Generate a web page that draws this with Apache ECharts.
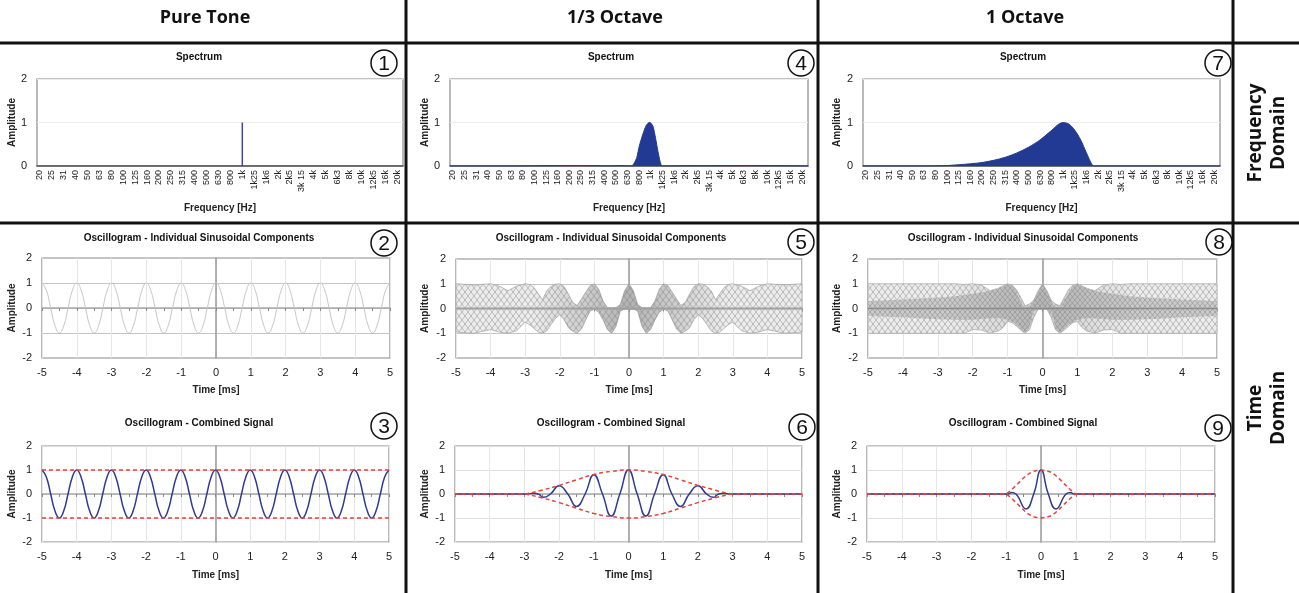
<!DOCTYPE html>
<html><head><meta charset="utf-8">
<script src="https://cdn.jsdelivr.net/npm/echarts@6/dist/echarts.min.js"></script>
<style>html,body{margin:0;padding:0;background:#fff}#c{width:1299px;height:593px}</style>
</head><body><div id="c"></div>
<script>
// ---------------- DATA ----------------
const columnHeaders = ['Pure Tone', '1/3 Octave', '1 Octave'];
const rowHeaders = ['Frequency\nDomain', 'Time\nDomain'];
const panelNumbers = ['1','2','3','4','5','6','7','8','9'];
const bandLabels = ['20','25','31','40','50','63','80','100','125','160','200','250','315','400','500','630','800','1k','1k25','1k6','2k','2k5','3k 15','4k','5k','6k3','8k','10k','12k5','16k','20k'];
const bandIndex = [0,1,2,3,4,5,6,7,8,9,10,11,12,13,14,15,16,17,18,19,20,21,22,23,24,25,26,27,28,29,30];

// spectra: [band index, amplitude]
const specPure = [[17,0],[17,1]];
const specThird = [[-0.25,0],[6,0],[6,0.012],[11,0.012],[11,0],[13.4,0],[13.4,0.012],[14.4,0.012],[14.4,0],[15.35,0],[15.6,0.08],[15.8,0.2],[16.0,0.45],[16.3,0.72],[16.6,0.93],[16.85,1.0],[17.0,0.99],[17.2,0.9],[17.4,0.65],[17.6,0.35],[17.8,0.1],[17.95,0],[18.3,0],[18.3,0.01],[26,0.01],[26,0],[30.5,0]];
const specOctave = [[-0.25,0],[5.5,0],[7,0.01],[8,0.03],[9,0.05],[10,0.08],[11,0.13],[12,0.2],[13,0.3],[14,0.43],[15,0.6],[16,0.82],[16.6,0.96],[17,1.0],[17.5,0.96],[18,0.82],[18.5,0.6],[19,0.3],[19.5,0.02],[19.7,0],[30.5,0]];

// pure tone (ms, amplitude)
const toneTime = [-5,-4.875,-4.75,-4.625,-4.5,-4.375,-4.25,-4.125,-4,-3.875,-3.75,-3.625,-3.5,-3.375,-3.25,-3.125,-3,-2.875,-2.75,-2.625,-2.5,-2.375,-2.25,-2.125,-2,-1.875,-1.75,-1.625,-1.5,-1.375,-1.25,-1.125,-1,-0.875,-0.75,-0.625,-0.5,-0.375,-0.25,-0.125,0,0.125,0.25,0.375,0.5,0.625,0.75,0.875,1,1.125,1.25,1.375,1.5,1.625,1.75,1.875,2,2.125,2.25,2.375,2.5,2.625,2.75,2.875,3,3.125,3.25,3.375,3.5,3.625,3.75,3.875,4,4.125,4.25,4.375,4.5,4.625,4.75,4.875,5];
const toneValue = [1,.71,0,-.71,-1,-.71,0,.71,1,.71,0,-.71,-1,-.71,0,.71,1,.71,0,-.71,-1,-.71,0,.71,1,.71,0,-.71,-1,-.71,0,.71,1,.71,0,-.71,-1,-.71,0,.71,1,.71,0,-.71,-1,-.71,0,.71,1,.71,0,-.71,-1,-.71,0,.71,1,.71,0,-.71,-1,-.71,0,.71,1,.71,0,-.71,-1,-.71,0,.71,1,.71,0,-.71,-1,-.71,0,.71,1];
const toneEnvTime = [-5,5];
const toneEnvUpper = [1,1];
const toneEnvLower = [-1,-1];

// 1/3 octave: spread of the individual components (upper / lower outline)
const thirdBandTime = [-5,-4.5,-4,-3.75,-3.5,-3.25,-3,-2.875,-2.75,-2.625,-2.5,-2.375,-2.25,-2.125,-2,-1.875,-1.75,-1.625,-1.5,-1.375,-1.25,-1.125,-1,-0.875,-0.75,-0.625,-0.5,-0.375,-0.25,-0.125,0,0.125,0.25,0.375,0.5,0.625,0.75,0.875,1,1.125,1.25,1.375,1.5,1.625,1.75,1.875,2,2.125,2.25,2.375,2.5,2.625,2.75,2.875,3,3.25,3.5,3.75,4,4.5,5];
const thirdBandUpper = [1,.95,1,.9,.72,.9,1,.97,.85,.6,.35,.72,.89,.98,1,.88,.58,.24,.12,.38,.66,.92,1,.78,.30,.03,.03,.03,.17,.72,1,.72,.17,.03,.03,.03,.30,.78,1,.92,.66,.38,.12,.24,.58,.88,1,.98,.89,.72,.35,.6,.85,.97,1,.9,.72,.9,1,.95,1];
const thirdBandLower = [-.95,-1,-.85,-.95,-1,-.9,-.55,-.65,-.8,-.95,-1,-.9,-.64,-.4,-.25,-.45,-.78,-.92,-1,-.83,-.46,-.1,-.03,-.15,-.46,-.85,-1,-.72,-.1,-.02,-.02,-.02,-.1,-.72,-1,-.85,-.46,-.15,-.03,-.1,-.46,-.83,-1,-.92,-.78,-.45,-.25,-.4,-.64,-.9,-1,-.95,-.8,-.65,-.55,-.9,-1,-.95,-.85,-1,-.95];

// 1/3 octave combined signal
const thirdSigTime = [-5,-3,-2.9,-2.75,-2.6,-2.45,-2.25,-2,-1.75,-1.5,-1.25,-1,-0.75,-0.5,-0.25,0,0.25,0.5,0.75,1,1.25,1.5,1.75,2,2.25,2.45,2.6,2.75,2.9,3,5];
const thirdSigValue = [0,0,0,0.03,0,-0.14,0,0.34,0,-0.52,0,0.8,0,-0.92,0,1,0,-0.92,0,0.8,0,-0.52,0,0.34,0,-0.14,0,0.03,0,0,0];
const thirdEnvTime = [-5,-3,-2.9,-2.5,-2,-1.5,-1,-0.5,0,0.5,1,1.5,2,2.5,2.9,3,5];
const thirdEnvUpper = [0,0,0.02,0.16,0.36,0.59,0.81,0.94,1,0.94,0.81,0.59,0.36,0.16,0.02,0,0];
const thirdEnvLower = [0,0,-0.02,-0.16,-0.36,-0.59,-0.81,-0.94,-1,-0.94,-0.81,-0.59,-0.36,-0.16,-0.02,0,0];

// 1 octave: spread of the individual components (light mesh) and their dense core
const octBandTime = [-5,-2.5,-2.25,-2,-1.75,-1.5,-1.25,-1.125,-1,-0.875,-0.75,-0.625,-0.5,-0.375,-0.25,-0.125,0,0.125,0.25,0.375,0.5,0.625,0.75,0.875,1,1.125,1.25,1.5,1.75,2,2.25,2.5,5];
const octBandUpper = [1,1,.97,1,.95,.72,.82,.92,1,.95,.77,.45,.11,.18,.33,.72,1,.72,.33,.18,.11,.45,.77,.95,1,.92,.82,.72,.95,1,.97,1,1];
const octBandLower = [-1,-1,-1,-.85,-.87,-1,-.9,-.76,-.52,-.57,-.71,-.87,-1,-.86,-.36,-.02,-.02,-.02,-.36,-.86,-1,-.87,-.71,-.57,-.52,-.76,-.9,-1,-.87,-.85,-1,-1,-1];
const octCoreTime = [-5,-4,-3.2,-2.5,-2,-1.6,-1.25,-1,-0.89,-0.79,-0.7,-0.63,-0.55,-0.5,-0.4,-0.35,-0.3,-0.25,-0.12,0,0.12,0.25,0.3,0.35,0.4,0.5,0.55,0.63,0.7,0.79,0.89,1,1.25,1.6,2,2.5,3.2,4,5];
const octCoreUpper = [.3,.36,.42,.5,.6,.68,.84,1,.93,.75,.5,.3,.08,.06,.06,.08,.15,.3,.7,1,.7,.3,.15,.08,.06,.06,.08,.3,.5,.75,.93,1,.84,.68,.6,.5,.42,.36,.3];
const octCoreLower = [-.3,-.35,-.42,-.45,-.45,-.4,-.38,-.45,-.52,-.6,-.72,-.82,-.95,-1,-.82,-.6,-.3,-.1,-.03,-.02,-.03,-.1,-.3,-.6,-.82,-1,-.95,-.82,-.72,-.6,-.52,-.45,-.38,-.4,-.45,-.45,-.42,-.35,-.3];

// 1 octave combined signal
const octSigTime = [-5,-1,-0.95,-0.85,-0.72,-0.43,-0.21,0,0.21,0.43,0.72,0.85,0.95,1,5];
const octSigValue = [0,0,0,0.06,0,-0.63,0,1,0,-0.63,0,0.06,0,0,0];
const octEnvTime = [-5,-1,-0.85,-0.7,-0.55,-0.4,-0.25,-0.12,0,0.12,0.25,0.4,0.55,0.7,0.85,1,5];
const octEnvUpper = [0,0,0.17,0.38,0.6,0.8,0.93,0.98,1,0.98,0.93,0.8,0.6,0.38,0.17,0,0];
const octEnvLower = [0,0,-0.17,-0.38,-0.6,-0.8,-0.93,-0.98,-1,-0.98,-0.93,-0.8,-0.6,-0.38,-0.17,0,0];

// ---------------- CHART ----------------
const SANS = '"Liberation Sans", Arial, Helvetica, sans-serif';
const HEAD = '"Open Sans", "Liberation Sans", sans-serif';
const BLUE = '#2f3a94';
const FILL = '#233a95';
const RED = '#e2433c';
const GREYLINE = '#c6c6c6';
const pairs = (t, v) => t.map((x, i) => [x, v[i]]);

function mesh(bg, ln, w, h) {
  const c = document.createElement('canvas');
  c.width = w; c.height = h;
  const g = c.getContext('2d');
  g.fillStyle = bg; g.fillRect(0, 0, w, h);
  g.strokeStyle = ln; g.lineWidth = 0.8;
  g.beginPath(); g.moveTo(0, 0); g.lineTo(w, h); g.moveTo(w, 0); g.lineTo(0, h); g.stroke();
  return {image: c, repeat: 'repeat'};
}
const LIGHT_MESH = mesh('#ededed', '#ababab', 6, 8);
const DARK_MESH = mesh('#cbcbcb', '#9c9c9c', 5, 6);
function centreShade(a) {
  return {type: 'linear', x: 0, y: 0, x2: 1, y2: 0, global: false, colorStops: [
    {offset: 0, color: 'rgba(120,120,120,0)'}, {offset: 0.22, color: 'rgba(120,120,120,0)'},
    {offset: 0.5, color: 'rgba(120,120,120,' + a + ')'},
    {offset: 0.78, color: 'rgba(120,120,120,0)'}, {offset: 1, color: 'rgba(120,120,120,0)'}]};
}

const grid = [], xAxis = [], yAxis = [], series = [], graphic = [];
const nameStyle = {fontWeight: 'bold', fontSize: 10, fontFamily: SANS, color: '#222'};
const labStyle = {fontSize: 11, fontFamily: SANS, color: '#222'};

function makeGrid(b) {
  grid.push({left: b[0], top: b[1], width: b[2], height: b[3], show: true,
    borderColor: '#8a8a8a', borderWidth: 1.2, backgroundColor: 'transparent'});
  return grid.length - 1;
}

function specPanel(b, yGap) {
  const g = makeGrid(b);
  const xi = xAxis.length;
  xAxis.push({type: 'value', gridIndex: g, min: -0.25, max: 30.5,
    axisLine: {show: true, onZero: false, lineStyle: {color: '#4a4a4a', width: 1.5}},
    axisTick: {show: false}, splitLine: {show: false},
    axisLabel: {customValues: bandIndex, formatter: v => bandLabels[Math.round(v)], rotate: 90,
      fontSize: 9, fontFamily: SANS, color: '#222', margin: 4, hideOverlap: false},
    name: 'Frequency [Hz]', nameLocation: 'middle', nameGap: 37, nameTextStyle: nameStyle});
  const yi = yAxis.length;
  yAxis.push({type: 'value', gridIndex: g, min: 0, max: 2, interval: 1,
    axisLine: {show: false}, axisTick: {show: false},
    splitLine: {show: true, lineStyle: {color: '#ececec'}},
    axisLabel: Object.assign({margin: 10}, labStyle),
    name: 'Amplitude', nameLocation: 'middle', nameGap: yGap, nameTextStyle: nameStyle});
  return {xi, yi};
}

function timePanel(b, yGap, xGap, hColor) {
  const g = makeGrid(b);
  const xi = xAxis.length;
  xAxis.push({type: 'value', gridIndex: g, min: -5, max: 5, interval: 1,
    axisLine: {show: false, onZero: false}, axisTick: {show: false},
    splitLine: {show: true, lineStyle: {color: '#e6e6e6'}},
    axisLabel: Object.assign({margin: 9}, labStyle),
    name: 'Time [ms]', nameLocation: 'middle', nameGap: xGap, nameTextStyle: nameStyle});
  xAxis.push({type: 'value', gridIndex: g, min: -5, max: 5, interval: 0.5,
    axisLine: {show: true, onZero: true, lineStyle: {color: '#a8a8a8', width: 1.5}},
    axisTick: {show: true, inside: true, length: 3, lineStyle: {color: '#888'}},
    axisLabel: {show: false}, splitLine: {show: false}});
  const yi = yAxis.length;
  yAxis.push({type: 'value', gridIndex: g, min: -2, max: 2, interval: 1,
    axisLine: {show: false, onZero: false}, axisTick: {show: false},
    splitLine: {show: true, lineStyle: {color: hColor}},
    axisLabel: Object.assign({margin: 10}, labStyle),
    name: 'Amplitude', nameLocation: 'middle', nameGap: yGap, nameTextStyle: nameStyle});
  yAxis.push({type: 'value', gridIndex: g, min: -2, max: 2,
    axisLine: {show: true, onZero: true, lineStyle: {color: '#9a9a9a', width: 1.5}},
    axisTick: {show: false}, axisLabel: {show: false}, splitLine: {show: false}});
  return {xi, yi};
}

function line(ax, data, color, width, opts) {
  series.push(Object.assign({type: 'line', xAxisIndex: ax.xi, yAxisIndex: ax.yi, data,
    symbol: 'none', silent: true, animation: false, z: 3,
    lineStyle: {color, width}}, opts || {}));
}
function band(ax, t, up, lo, fill, stroke, z) {
  const pts = pairs(t, up).concat(pairs(t, lo).reverse());
  series.push({type: 'custom', xAxisIndex: ax.xi, yAxisIndex: ax.yi, data: [[0, 0]],
    silent: true, animation: false, z: z || 2,
    renderItem: (params, api) => ({type: 'polygon',
      shape: {points: pts.map(p => api.coord(p))},
      style: {fill, stroke: stroke || null, lineWidth: 0.8}})});
}
const dashed = {lineStyle: {color: RED, width: 1.5, type: [4, 3]}, z: 4};

// spectrum row
const s1 = specPanel([37, 79, 366, 87], 20);
const s4 = specPanel([450, 79, 358, 87], 20);
const s7 = specPanel([863, 79, 357, 87], 21);
line(s1, specPure, '#3a47a8', 1.5);
line(s4, specThird, FILL, 1, {smooth: 0.2, areaStyle: {color: FILL, opacity: 1}});
line(s7, specOctave, FILL, 1, {smooth: 0.3, areaStyle: {color: FILL, opacity: 1}});

// individual components row
const o2 = timePanel([42, 258, 348, 100], 25, 27, '#c4c4c4');
const o5 = timePanel([456, 259, 346, 99], 26, 27, '#c4c4c4');
const o8 = timePanel([868, 259, 349, 99], 26, 27, '#c4c4c4');
line(o2, pairs(toneTime, toneValue), GREYLINE, 1, {smooth: true});
band(o5, thirdBandTime, thirdBandUpper, thirdBandLower, LIGHT_MESH, '#a8a8a8');
band(o5, thirdBandTime, thirdBandUpper, thirdBandLower, centreShade(0.5), null, 2.2);
line(o5, [[-5, 0], [5, 0]], '#a0a0a0', 2);
band(o8, octBandTime, octBandUpper, octBandLower, LIGHT_MESH, '#b0b0b0');
band(o8, octCoreTime, octCoreUpper, octCoreLower, DARK_MESH, null, 2.3);
band(o8, octBandTime, octBandUpper, octBandLower, centreShade(0.25), null, 2.5);
line(o8, [[-5, 0], [5, 0]], '#8a8a8a', 1.5);

// combined row
const c3 = timePanel([42, 446, 347, 96], 25, 28, '#dedede');
const c6 = timePanel([455, 446, 347, 96], 25, 28, '#dedede');
const c9 = timePanel([867, 446, 348, 96], 25, 28, '#dedede');
line(c3, pairs(toneTime, toneValue), BLUE, 1.5, {smooth: true});
line(c3, pairs(toneEnvTime, toneEnvUpper), RED, 1.5, dashed);
line(c3, pairs(toneEnvTime, toneEnvLower), RED, 1.5, dashed);
line(c6, pairs(thirdSigTime, thirdSigValue), BLUE, 1.5, {smooth: true});
line(c6, pairs(thirdEnvTime, thirdEnvUpper), RED, 1.5, Object.assign({smooth: true}, dashed));
line(c6, pairs(thirdEnvTime, thirdEnvLower), RED, 1.5, Object.assign({smooth: true}, dashed));
line(c9, pairs(octSigTime, octSigValue), BLUE, 1.5, {smooth: true});
line(c9, pairs(octEnvTime, octEnvUpper), RED, 1.5, dashed);
line(c9, pairs(octEnvTime, octEnvLower), RED, 1.5, dashed);

// ---------------- GRAPHIC (table frame, headers, titles, numbers) ----------------
function txt(x, y, text, font, extra) {
  graphic.push(Object.assign({type: 'text', x, y, silent: true,
    style: {text, font, fill: '#111', align: 'center', verticalAlign: 'middle',
      textAlign: 'center', textVerticalAlign: 'middle', lineHeight: 23}}, extra || {}));
}
function rule(x1, y1, x2, y2, w) {
  graphic.push({type: 'line', silent: true, shape: {x1, y1, x2, y2}, style: {stroke: '#111', lineWidth: w}});
}
rule(0, 43, 1299, 43, 3);
rule(0, 223, 1299, 223, 3);
rule(406, 0, 406, 593, 3);
rule(818, 0, 818, 593, 3);
rule(1233, 0, 1233, 593, 3);

const colCenters = [205, 615, 1025];
columnHeaders.forEach((h, i) => txt(colCenters[i], 18, h, 'bold 18px ' + HEAD));
txt(1267, 133, rowHeaders[0], 'bold 19px ' + HEAD, {rotation: Math.PI / 2});
txt(1267, 408, rowHeaders[1], 'bold 19px ' + HEAD, {rotation: Math.PI / 2});

const titleCenters = [199, 611, 1023];
const rowTitles = ['Spectrum', 'Oscillogram - Individual Sinusoidal Components', 'Oscillogram - Combined Signal'];
const rowTitleY = [57, 238, 423];
for (let c = 0; c < 3; c++) for (let r = 0; r < 3; r++) txt(titleCenters[c], rowTitleY[r], rowTitles[r], 'bold 10px ' + SANS);

const circleX = [[384, 384, 384], [801, 801, 802], [1218, 1219, 1218]];
const circleY = [[63, 243, 426], [63, 242, 427], [63, 242, 428]];
for (let c = 0; c < 3; c++) for (let r = 0; r < 3; r++) {
  const cx = circleX[c][r], cy = circleY[c][r];
  graphic.push({type: 'circle', silent: true, shape: {cx, cy, r: 13}, style: {fill: '#fff', stroke: '#111', lineWidth: 1.5}});
  txt(cx, cy + 1, panelNumbers[c * 3 + r], '21px ' + SANS);
}

const chart = echarts.init(document.getElementById('c'), null, {renderer: 'canvas'});
chart.setOption({animation: false, backgroundColor: '#fff', grid, xAxis, yAxis, series, graphic});
</script></body></html>
